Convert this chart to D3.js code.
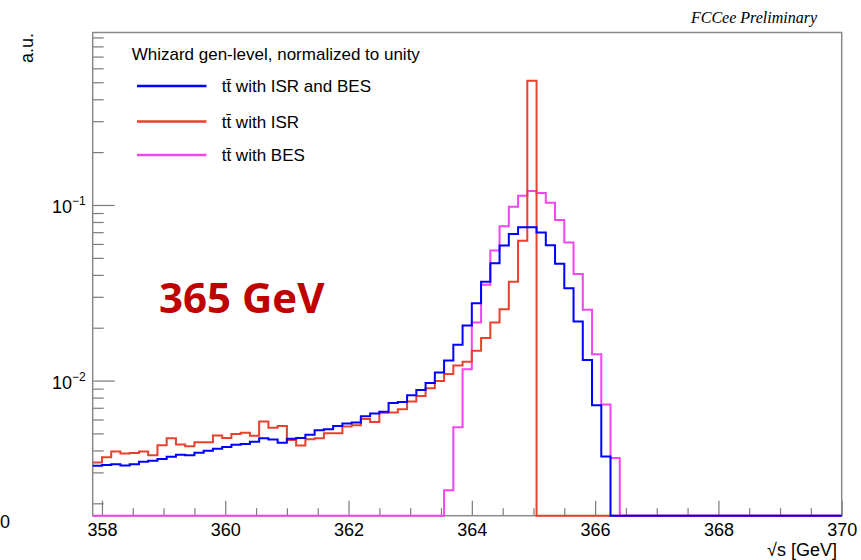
<!DOCTYPE html>
<html>
<head>
<meta charset="utf-8">
<script src="https://cdn.jsdelivr.net/npm/d3@7"></script>
<style>
  body { margin: 0; background: #fff; }
  text { font-family: "Liberation Sans", Arial, Helvetica, sans-serif; fill: #000; }
</style>
</head>
<body>
<div id="chart"></div>
<script>

// binning of the histograms (first visible bin edge and bin width, GeV)
var binLow = 357.85;
var binWidth = 0.15;

// tt~ with ISR and BES (blue)
var isrBes = [
  0.00327, 0.00331, 0.00334, 0.00328, 0.00334, 0.00345, 0.00349, 0.00357, 0.00368, 0.00378,
  0.00376, 0.00388, 0.00398, 0.00409, 0.00418, 0.00431, 0.00435, 0.00448, 0.00470, 0.00462,
  0.00442, 0.00466, 0.00471, 0.00491, 0.00521, 0.00529, 0.00552, 0.00569, 0.00577, 0.00627,
  0.00649, 0.00664, 0.00744, 0.00754, 0.00824, 0.00885, 0.00970, 0.0111, 0.0130, 0.0160,
  0.0206, 0.0276, 0.0365, 0.0466, 0.0588, 0.0684, 0.0747, 0.0747, 0.0698, 0.0590,
  0.0463, 0.0336, 0.0217, 0.0131, 0.00723, 0.00369, 0, 0, 0, 0,
  0, 0, 0, 0, 0, 0, 0, 0, 0, 0,
  0, 0, 0, 0, 0, 0, 0, 0, 0, 0,
  0
];

// tt~ with ISR only (red)
var isrOnly = [
  0.00341, 0.00366, 0.00394, 0.00384, 0.00387, 0.00394, 0.00375, 0.00428, 0.00470, 0.00432,
  0.00422, 0.00445, 0.00445, 0.00486, 0.00471, 0.00496, 0.00505, 0.00485, 0.00584, 0.00538,
  0.00552, 0.00458, 0.00427, 0.00464, 0.00470, 0.00502, 0.00502, 0.00547, 0.00556, 0.00605,
  0.00581, 0.00655, 0.00658, 0.00686, 0.00759, 0.00818, 0.00905, 0.00996, 0.0109, 0.0122,
  0.0128, 0.0148, 0.0175, 0.0214, 0.0255, 0.0366, 0.0626, 0.510, 0, 0,
  0, 0, 0, 0, 0, 0, 0, 0, 0, 0,
  0, 0, 0, 0, 0, 0, 0, 0, 0, 0,
  0, 0, 0, 0, 0, 0, 0, 0, 0, 0,
  0
];

// tt~ with BES only (magenta)
var besOnly = [
  0, 0, 0, 0, 0, 0, 0, 0, 0, 0,
  0, 0, 0, 0, 0, 0, 0, 0, 0, 0,
  0, 0, 0, 0, 0, 0, 0, 0, 0, 0,
  0, 0, 0, 0, 0, 0, 0, 0, 0.00237, 0.00542,
  0.0116, 0.0214, 0.0351, 0.0550, 0.0757, 0.0978, 0.113, 0.120, 0.117, 0.103,
  0.0822, 0.0611, 0.0405, 0.0253, 0.0141, 0.00730, 0.00362, 0, 0, 0,
  0, 0, 0, 0, 0, 0, 0, 0, 0, 0,
  0, 0, 0, 0, 0, 0, 0, 0, 0, 0,
  0
];

var legendLabels = ["t\u0074\u0304 with ISR and BES", "t\u0074\u0304 with ISR", "t\u0074\u0304 with BES"];
var xTicksMajor = [358, 360, 362, 364, 366, 368, 370];
var yTicksMajor = [0.01, 0.1];
var yTickExp = ["\u22122", "\u22121"];

var colBlue = "#0000ff", colRed = "#e8412f", colMag = "#f046f0";

var margin = {top: 32.5, right: 19.3, bottom: 44.3, left: 92.7};
var width = 861 - margin.left - margin.right,
    height = 560 - margin.top - margin.bottom;

var svg = d3.select("#chart").append("svg")
    .attr("width", 861)
    .attr("height", 560);

var g = svg.append("g")
    .attr("transform", "translate(" + margin.left + "," + margin.top + ")");

// scales
var x = d3.scaleLinear()
    .domain([binLow, 370])
    .range([0, width]);

var y = d3.scaleLog()
    .domain([0.0017, 0.96])
    .range([height, 0]);

// minor ticks
var xMinor = d3.range(358.5, 370, 0.5).filter(function(d) { return d % 2 !== 0; });
var yMinor = [];
[0.001, 0.01, 0.1].forEach(function(dec) {
  for (var k = 2; k <= 9; k++) {
    var v = k * dec;
    if (v >= y.domain()[0] && v <= y.domain()[1]) yMinor.push(v);
  }
});

// axes (ticks pointing into the frame, ROOT style)
var xAxis = d3.axisBottom(x).tickValues(xTicksMajor).tickSize(-15).tickPadding(8)
    .tickFormat(d3.format("d"));
var xAxisMinor = d3.axisBottom(x).tickValues(xMinor).tickSize(-7.5).tickFormat("");
var yAxis = d3.axisLeft(y).tickValues(yTicksMajor).tickSize(-22).tickFormat("");
var yAxisMinor = d3.axisLeft(y).tickValues(yMinor).tickSize(-11).tickFormat("");

g.append("g").attr("class", "axis").attr("transform", "translate(0," + height + ")").call(xAxis);
g.append("g").attr("class", "axis").attr("transform", "translate(0," + height + ")").call(xAxisMinor);
g.append("g").attr("class", "axis").call(yAxis);
g.append("g").attr("class", "axis").call(yAxisMinor);

g.selectAll(".axis .domain").remove();
g.selectAll(".axis line").attr("stroke", "#7a7a7a").attr("stroke-width", 1.2);
g.selectAll(".axis text").attr("font-size", 18).attr("font-family", "Liberation Sans, Arial, sans-serif");

// y tick labels as 10^n
yTicksMajor.forEach(function(v, i) {
  var t = g.append("text")
      .attr("x", -7)
      .attr("y", y(v) + 8)
      .attr("text-anchor", "end")
      .attr("font-size", 18);
  t.append("tspan").text("10");
  t.append("tspan").attr("font-size", 12).attr("dy", -8).text(yTickExp[i]);
});

// frame
g.append("rect")
    .attr("width", width)
    .attr("height", height)
    .attr("fill", "none")
    .attr("stroke", "#8a8a8a")
    .attr("stroke-width", 1.5);

// histograms as steps
function stepPoints(values) {
  var pts = [];
  values.forEach(function(v, i) {
    var yy = y(Math.max(v, y.domain()[0]));
    pts.push([x(binLow + i * binWidth), yy]);
    pts.push([x(binLow + (i + 1) * binWidth), yy]);
  });
  return pts;
}

var line = d3.line();

[[besOnly, colMag], [isrOnly, colRed], [isrBes, colBlue]].forEach(function(s) {
  g.append("path")
      .attr("d", line(stepPoints(s[0])))
      .attr("fill", "none")
      .attr("stroke", s[1])
      .attr("stroke-width", 2)
      .attr("stroke-linejoin", "miter");
});

// legend
svg.append("text")
    .attr("x", 131.7)
    .attr("y", 59.5)
    .attr("font-size", 17)
    .text("Whizard gen-level, normalized to unity");

var legendY = [86, 121.5, 155];
[colBlue, colRed, colMag].forEach(function(c, i) {
  svg.append("line")
      .attr("x1", 137).attr("x2", 206.5)
      .attr("y1", legendY[i]).attr("y2", legendY[i])
      .attr("stroke", c)
      .attr("stroke-width", 2.7);
  svg.append("text")
      .attr("x", 221.7)
      .attr("y", legendY[i] + 6)
      .attr("font-size", 17)
      .text(legendLabels[i]);
});

// axis titles
svg.append("text")
    .attr("x", 837)
    .attr("y", 556)
    .attr("text-anchor", "end")
    .attr("font-size", 18)
    .text("\u221As [GeV]");

svg.append("text")
    .attr("transform", "translate(33,33) rotate(-90)")
    .attr("text-anchor", "end")
    .attr("font-size", 18)
    .text("a.u.");

// stray "0" label at the lower left edge
svg.append("text")
    .attr("x", 0)
    .attr("y", 528)
    .attr("font-size", 18)
    .text("0");

svg.append("text")
    .attr("x", 817)
    .attr("y", 23)
    .attr("text-anchor", "end")
    .attr("font-size", 16)
    .attr("font-style", "italic")
    .style("font-family", "'Liberation Serif', 'Times New Roman', serif")
    .text("FCCee Preliminary");

svg.append("text")
    .attr("x", 159)
    .attr("y", 313)
    .attr("font-size", 42)
    .attr("font-weight", 700)
    .style("font-family", "'Open Sans', sans-serif")
    .style("fill", "#c00000")
    .text("365 GeV");

</script>
</body>
</html>
